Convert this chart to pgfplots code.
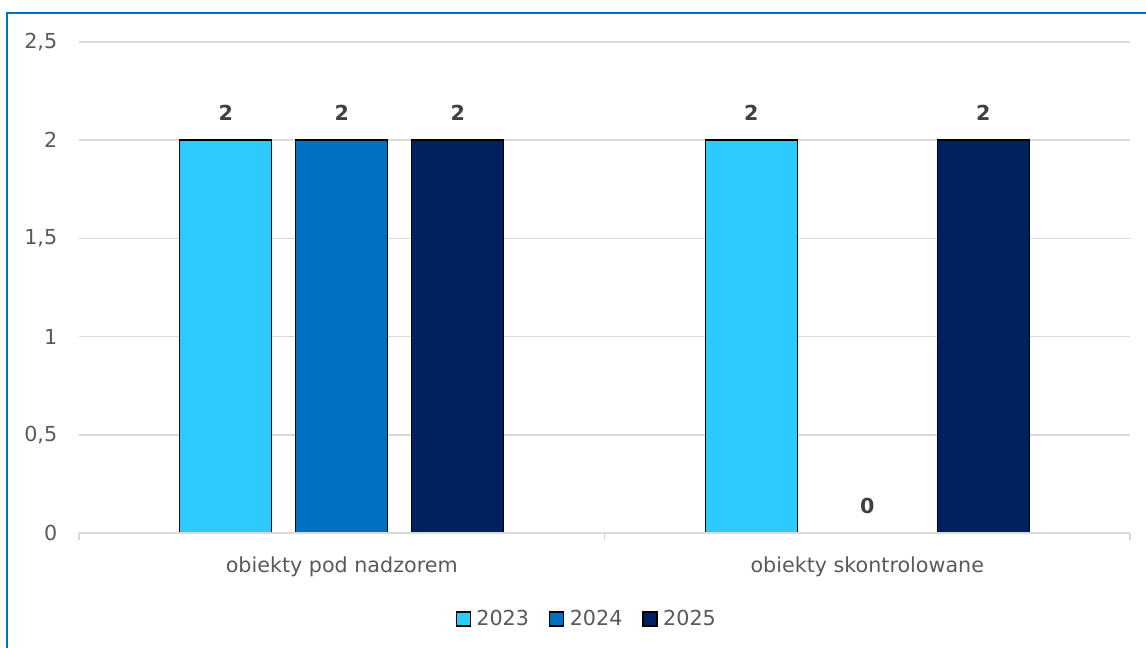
\documentclass[border=0pt]{standalone}
\usepackage{pgfplots}
\pgfplotsset{compat=1.18}
\usepackage{fontspec}
\setmainfont{DejaVu Sans}
\definecolor{c23}{RGB}{45,201,255}
\definecolor{c24}{RGB}{0,112,192}
\definecolor{c25}{RGB}{0,32,96}
\definecolor{gridgray}{RGB}{217,217,217}
\definecolor{txt}{RGB}{89,89,89}
\definecolor{lbl}{RGB}{64,64,64}
\definecolor{framec}{RGB}{0,112,192}
\begin{document}
\fontsize{15.5pt}{18pt}\selectfont
\begin{tikzpicture}
\useasboundingbox (0,0) rectangle (859.5pt,485.25pt);
\clip (0,0) rectangle (859.5pt,485.25pt);
\draw[framec, line width=1.5pt] (5.25pt,-20pt) rectangle (880pt,475.5pt);
\begin{axis}[
  at={(59.25pt,85.5pt)}, anchor=south west,
  scale only axis, width=788.25pt, height=368.25pt,
  xmin=-0.5, xmax=1.5, ymin=0, ymax=2.5,
  ybar=18pt, bar width=69pt,
  xtick={-0.5,0.5,1.5},
  x tick label as interval,
  xticklabels={obiekty pod nadzorem, obiekty skontrolowane},
  ytick={0,0.5,1,1.5,2,2.5},
  /pgf/number format/.cd, use comma, assume math mode=true, /pgfplots/.cd,
  axis line style={draw=none},
  ymajorgrids, grid style={gridgray, line width=1.1pt},
  tick align=outside, xtick pos=bottom, ytick pos=left,
  major tick length=5pt,
  xtick style={draw=gridgray, line width=1.1pt},
  ytick style={draw=none},
  tick label style={text=txt},
  yticklabel style={xshift=-6pt},
  xticklabel style={yshift=-7.5pt},
  nodes near coords,
  every node near coord/.append style={font=\bfseries, text=lbl, yshift=9pt},
  legend columns=3,
  legend style={draw=none, at={(0.4834,-0.175)}, anchor=center, text=txt,
    /tikz/every even column/.append style={column sep=13pt}},
  legend image code/.code={\draw[#1,draw=black,line width=1.1pt] (0pt,-5.25pt) rectangle (10.5pt,5.25pt);},
]
\addplot[fill=c23, draw=black, line width=1.1pt] coordinates {(0,2) (1,2)};
\addplot[fill=c24, draw=black, line width=1.1pt] coordinates {(0,2) (1,0)};
\addplot[fill=c25, draw=black, line width=1.1pt] coordinates {(0,2) (1,2)};
\legend{\hspace{2pt}2023,\hspace{2pt}2024,\hspace{2pt}2025}
\draw[gridgray, line width=1.3pt] (axis cs:-0.5,0) -- (axis cs:1.5,0);
\end{axis}
\end{tikzpicture}
\end{document}
